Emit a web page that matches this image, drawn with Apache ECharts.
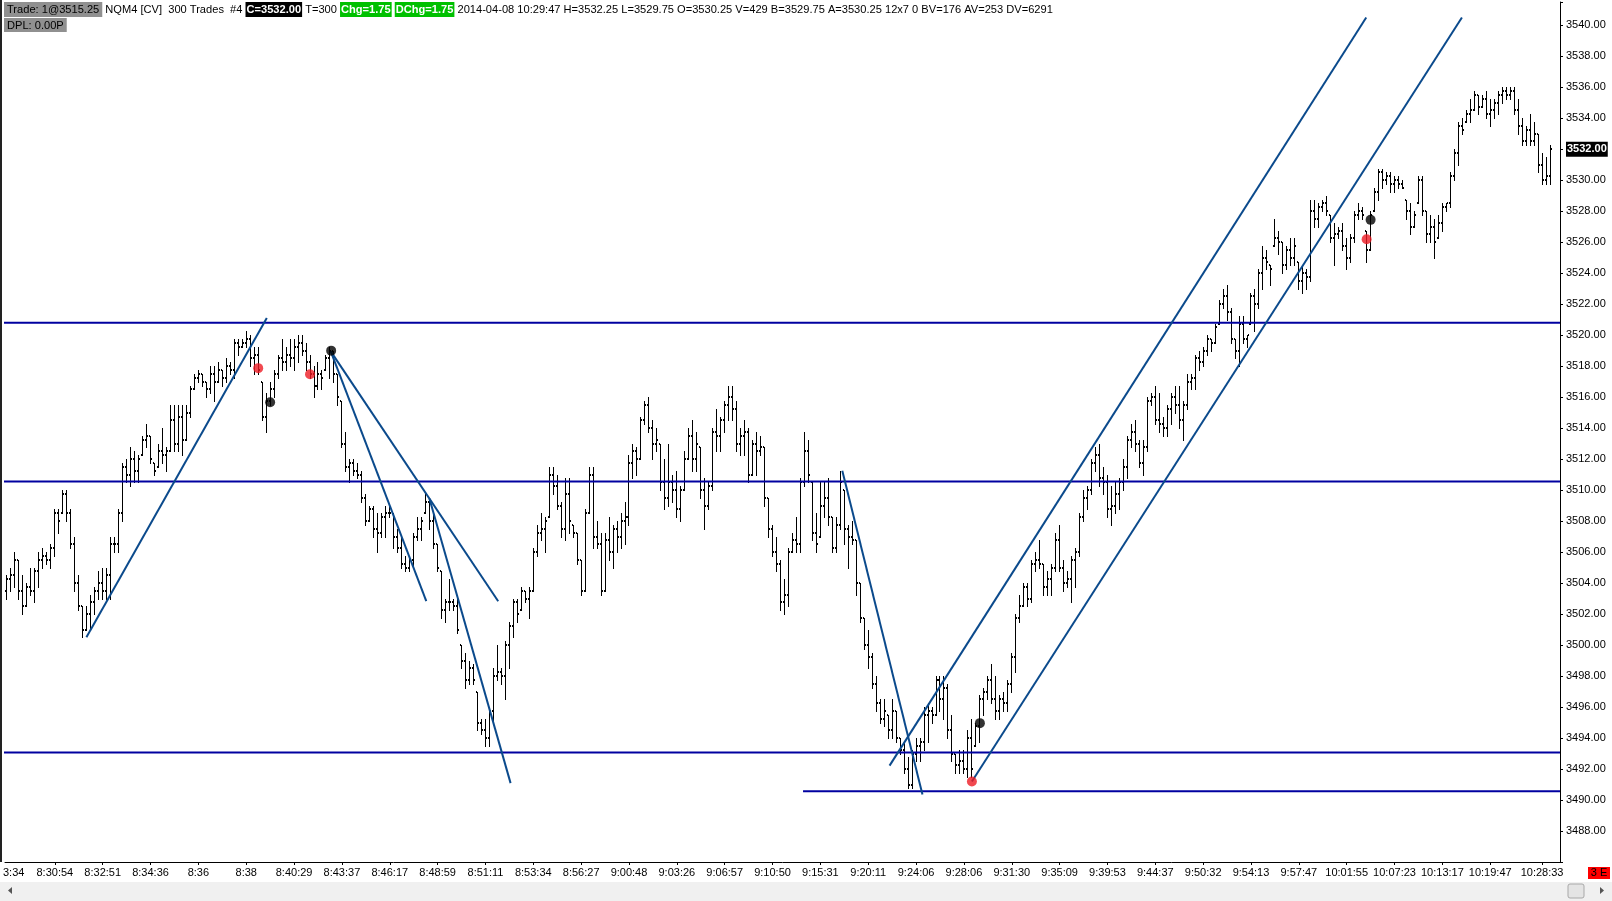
<!DOCTYPE html>
<html>
<head>
<meta charset="utf-8">
<script src="https://cdn.jsdelivr.net/npm/echarts@6/dist/echarts.min.js"></script>
<style>html,body{margin:0;padding:0;background:#fff;overflow:hidden}#chart{width:1612px;height:901px}</style>
</head>
<body>
<div id="chart"></div>
<script>
// ---- OHLC bars (300-trade bars, NQM4) ----
const opens = [
3503.5,3504.25,3504.5,3505.5,3503.5,3502.5,3503.75,3503.5,3504.75,3505.5,
3505.75,3505.5,3506.25,3508.5,3508.5,3509.75,3508.5,3506.5,3504.0,3502.5,
3501.0,3502.0,3502.75,3503.5,3504.0,3503.5,3504.5,3506.5,3506.5,3508.5,
3511.5,3511.0,3512.0,3511.25,3512.25,3513.25,3513.5,3511.75,3511.5,3512.5,
3512.25,3512.5,3514.5,3513.0,3514.75,3513.25,3515.0,3516.5,3517.25,3517.5,
3517.0,3516.5,3517.5,3517.0,3517.75,3517.25,3518.0,3517.75,3519.5,3519.25,
3519.5,3519.75,3518.5,3518.75,3517.0,3514.75,3515.75,3516.5,3517.5,3518.5,
3518.25,3518.75,3518.5,3519.25,3519.5,3519.0,3518.25,3517.5,3516.75,3517.5,
3517.75,3518.5,3519.0,3517.5,3515.75,3513.0,3511.5,3511.75,3511.25,3511.0,
3509.5,3508.0,3508.75,3507.5,3507.25,3508.25,3508.5,3508.5,3507.0,3506.25,
3505.25,3505.0,3505.5,3507.0,3507.5,3508.5,3509.25,3508.0,3506.5,3504.75,
3502.25,3502.75,3502.75,3502.5,3500.0,3499.0,3497.75,3498.5,3497.0,3495.0,
3494.5,3494.0,3495.75,3498.0,3498.25,3498.0,3500.0,3501.25,3502.75,3502.25,
3503.5,3503.0,3503.5,3506.0,3507.25,3507.5,3508.25,3511.0,3510.25,3509.0,
3507.5,3509.75,3507.75,3507.25,3505.5,3503.5,3508.5,3511.0,3507.0,3506.5,
3503.5,3506.75,3506.0,3507.5,3507.0,3508.0,3508.25,3511.75,3512.5,3512.0,
3514.5,3515.5,3514.0,3513.0,3513.0,3510.5,3509.5,3510.5,3510.0,3508.75,
3510.0,3512.0,3513.5,3512.0,3512.75,3510.0,3509.0,3510.25,3513.75,3513.5,
3514.5,3515.5,3516.0,3515.25,3513.0,3513.5,3513.75,3511.0,3513.0,3512.5,
3512.75,3509.5,3507.5,3506.0,3505.25,3502.75,3503.25,3506.0,3506.75,3506.5,
3510.5,3512.5,3510.5,3507.25,3507.0,3509.0,3509.5,3508.25,3506.25,3507.75,
3510.0,3507.5,3507.0,3506.75,3504.0,3501.75,3500.0,3499.25,3497.5,3496.25,
3495.25,3495.5,3494.5,3495.75,3494.0,3493.25,3492.0,3491.0,3493.0,3493.5,
3493.75,3495.5,3495.75,3495.5,3497.75,3496.5,3497.25,3494.5,3493.0,3492.25,
3492.5,3492.0,3494.0,3493.5,3494.75,3496.5,3497.0,3497.75,3496.5,3495.75,
3496.5,3496.25,3497.5,3499.25,3501.75,3502.5,3503.75,3503.0,3505.25,3505.5,
3505.25,3503.75,3504.25,3505.0,3506.75,3505.0,3504.0,3504.25,3505.5,3506.0,
3508.25,3509.5,3510.0,3511.75,3512.25,3510.75,3510.5,3508.75,3509.0,3509.75,
3510.5,3511.5,3513.25,3513.75,3513.0,3511.75,3512.75,3515.75,3516.0,3514.5,
3514.25,3514.0,3515.25,3516.0,3515.5,3514.5,3515.5,3517.0,3517.25,3518.5,
3518.25,3519.0,3519.75,3519.5,3520.75,3522.0,3522.5,3521.5,3519.75,3519.0,
3520.75,3519.75,3520.75,3522.5,3522.0,3524.0,3525.0,3524.5,3525.75,3526.25,
3526.0,3524.5,3525.5,3525.0,3524.75,3523.5,3524.0,3523.75,3528.0,3527.5,
3528.25,3528.5,3527.75,3526.25,3526.5,3526.75,3525.75,3525.0,3526.25,3527.75,
3528.0,3526.75,3525.5,3528.0,3529.25,3530.5,3530.0,3530.25,3529.75,3530.0,
3529.75,3528.75,3528.0,3527.0,3528.5,3530.0,3528.0,3526.5,3527.0,3526.25,
3527.25,3528.25,3528.5,3530.25,3531.75,3533.5,3533.75,3534.25,3534.5,3535.5,
3534.75,3535.25,3534.25,3534.5,3535.0,3535.5,3535.75,3535.5,3535.75,3534.5,
3533.5,3532.5,3533.25,3532.5,3533.0,3531.0,3530.0,3530.25
];
const highs = [
3504.5,3505.0,3506.0,3505.5,3504.5,3504.0,3505.0,3505.0,3506.0,3506.25,
3506.0,3506.5,3508.75,3508.75,3510.0,3510.0,3508.75,3507.0,3504.5,3502.5,
3502.5,3503.25,3503.75,3504.75,3505.0,3505.0,3507.0,3507.0,3508.75,3511.75,
3512.0,3512.75,3512.5,3512.25,3513.5,3514.25,3513.5,3511.75,3513.0,3514.0,
3512.75,3515.5,3515.5,3515.5,3515.5,3515.5,3516.75,3517.5,3517.75,3517.5,
3517.0,3518.0,3518.0,3518.25,3517.75,3518.5,3518.25,3519.75,3519.75,3519.75,
3520.25,3520.0,3519.25,3519.25,3517.0,3516.25,3517.0,3517.75,3518.75,3519.75,
3519.25,3519.75,3519.75,3520.0,3520.0,3519.5,3518.75,3518.0,3518.25,3517.75,
3518.75,3519.25,3519.0,3517.5,3515.75,3513.75,3512.0,3512.0,3511.75,3511.25,
3509.75,3509.0,3509.0,3508.5,3508.5,3509.0,3509.0,3508.5,3507.5,3507.0,
3505.75,3505.75,3507.25,3508.25,3508.25,3509.75,3509.5,3508.5,3506.5,3504.75,
3503.0,3504.25,3503.0,3503.25,3500.0,3499.5,3499.0,3498.75,3497.0,3495.25,
3495.25,3496.0,3498.5,3500.0,3498.5,3500.25,3501.5,3503.0,3503.0,3503.75,
3503.5,3503.75,3506.25,3507.75,3508.5,3508.25,3511.5,3511.5,3511.0,3509.25,
3510.75,3510.75,3507.75,3507.25,3505.5,3508.75,3511.5,3511.5,3508.0,3507.25,
3507.25,3508.25,3507.75,3508.0,3508.5,3509.25,3512.25,3513.0,3512.75,3514.75,
3515.75,3516.0,3514.5,3514.0,3513.0,3512.0,3513.0,3511.0,3511.25,3510.25,
3512.5,3514.0,3514.5,3513.75,3512.75,3510.75,3510.5,3514.0,3515.25,3514.75,
3515.75,3516.75,3516.75,3515.75,3514.0,3514.5,3514.0,3513.25,3513.75,3513.5,
3512.75,3509.5,3507.75,3507.0,3505.5,3504.25,3506.25,3507.25,3508.25,3510.75,
3513.75,3513.25,3510.5,3508.5,3510.5,3510.5,3510.75,3508.25,3508.25,3511.25,
3510.0,3507.75,3508.0,3506.75,3504.0,3501.75,3501.0,3499.5,3498.0,3496.5,
3496.5,3495.5,3496.5,3495.75,3494.0,3493.75,3492.75,3493.25,3494.0,3494.0,
3496.0,3496.25,3496.0,3498.0,3498.0,3498.0,3497.5,3495.5,3493.0,3493.25,
3493.25,3494.5,3495.25,3495.0,3496.75,3497.25,3498.0,3498.75,3498.0,3496.75,
3497.0,3497.75,3499.5,3502.0,3503.25,3504.0,3504.0,3505.5,3506.0,3506.75,
3505.25,3504.75,3505.25,3507.25,3507.75,3505.5,3504.75,3505.75,3506.25,3508.5,
3510.0,3510.25,3512.0,3512.75,3513.0,3511.5,3511.0,3510.25,3510.5,3510.75,
3512.0,3513.5,3514.25,3514.5,3513.25,3513.25,3516.0,3516.25,3516.75,3516.25,
3514.75,3515.5,3516.25,3516.75,3516.75,3515.75,3517.5,3517.5,3518.75,3519.0,
3519.25,3520.0,3519.75,3520.75,3522.25,3523.0,3523.25,3521.75,3519.75,3521.25,
3521.25,3520.0,3522.75,3523.0,3524.25,3525.75,3525.5,3524.5,3527.5,3526.75,
3526.0,3525.75,3526.25,3526.25,3524.75,3524.5,3524.25,3528.75,3528.75,3528.5,
3528.75,3529.0,3527.75,3527.25,3527.0,3527.25,3526.25,3526.5,3528.0,3528.5,
3528.25,3526.75,3528.0,3529.5,3530.75,3530.75,3530.5,3530.5,3530.25,3530.25,
3530.0,3528.75,3528.5,3528.0,3530.25,3530.25,3528.0,3527.75,3527.5,3527.75,
3528.5,3528.5,3530.5,3532.0,3533.75,3534.0,3534.5,3535.25,3535.75,3535.5,
3535.5,3535.75,3535.25,3535.25,3535.75,3536.0,3536.0,3536.0,3536.0,3535.25,
3534.0,3533.5,3534.25,3533.75,3533.0,3531.75,3531.5,3532.25
];
const lows = [
3503.0,3503.5,3503.75,3503.0,3502.0,3502.5,3503.25,3502.75,3503.75,3505.0,
3505.25,3505.0,3505.75,3507.25,3508.5,3508.0,3506.25,3503.5,3502.25,3500.5,
3501.0,3501.0,3502.0,3503.0,3503.0,3503.0,3503.0,3506.0,3506.0,3508.0,
3510.5,3510.25,3510.5,3510.5,3512.25,3512.75,3511.75,3511.0,3511.5,3511.75,
3511.25,3512.5,3512.5,3512.5,3512.25,3513.25,3514.75,3516.5,3517.0,3516.75,
3516.0,3516.25,3515.75,3517.0,3516.75,3517.0,3517.5,3517.25,3518.75,3519.25,
3519.25,3518.0,3517.5,3517.5,3514.5,3513.75,3515.5,3516.0,3517.25,3517.75,
3517.75,3518.0,3517.75,3518.25,3518.75,3517.75,3517.25,3516.0,3516.5,3516.5,
3517.75,3517.25,3517.0,3515.5,3512.75,3511.25,3510.5,3511.0,3510.75,3509.25,
3507.75,3508.0,3507.0,3506.0,3507.0,3507.0,3508.25,3506.25,3506.0,3505.0,
3504.75,3504.75,3505.0,3506.75,3506.75,3508.5,3507.5,3506.25,3504.75,3501.75,
3501.5,3502.25,3502.25,3500.75,3498.5,3497.25,3497.5,3497.5,3494.5,3494.25,
3493.5,3493.5,3495.0,3497.75,3497.5,3496.5,3498.5,3500.5,3501.5,3502.25,
3502.75,3501.75,3503.5,3505.75,3506.75,3506.0,3508.25,3509.75,3508.75,3507.0,
3506.75,3507.25,3507.0,3505.25,3503.25,3503.5,3508.5,3506.25,3506.25,3503.25,
3503.5,3505.5,3505.0,3506.0,3506.25,3506.5,3507.75,3510.75,3511.0,3512.0,
3514.25,3513.75,3512.0,3512.5,3510.0,3508.75,3509.0,3509.25,3508.25,3508.0,
3510.0,3512.0,3511.25,3511.25,3509.5,3507.5,3508.75,3510.0,3512.5,3512.5,
3513.75,3514.5,3514.5,3512.5,3512.25,3512.25,3510.5,3511.0,3511.0,3512.25,
3509.0,3507.0,3505.75,3504.75,3502.25,3502.0,3502.5,3506.0,3506.0,3506.0,
3510.25,3510.5,3506.75,3506.0,3507.0,3508.25,3507.75,3506.0,3506.0,3507.5,
3506.5,3505.0,3506.5,3503.25,3501.5,3499.75,3498.5,3497.25,3495.75,3495.0,
3494.75,3494.0,3494.0,3493.75,3493.0,3491.75,3490.75,3490.75,3492.5,3492.5,
3493.25,3493.75,3495.0,3495.5,3495.75,3495.25,3494.0,3492.5,3491.75,3491.75,
3491.75,3491.5,3491.5,3493.5,3493.75,3495.5,3496.5,3496.25,3495.25,3495.25,
3495.75,3495.75,3497.0,3498.25,3501.5,3502.5,3502.5,3502.75,3504.75,3505.0,
3503.25,3503.25,3503.25,3504.75,3504.75,3503.5,3503.75,3502.75,3503.75,3505.75,
3508.0,3508.75,3509.75,3511.25,3510.25,3509.75,3508.25,3507.75,3508.5,3508.75,
3510.0,3510.75,3512.75,3512.5,3511.5,3511.0,3512.5,3515.5,3514.25,3513.75,
3513.5,3513.5,3514.25,3515.0,3514.0,3513.25,3515.25,3516.5,3516.5,3517.75,
3518.0,3518.75,3519.0,3519.5,3520.75,3521.75,3521.0,3519.5,3518.5,3518.0,
3519.5,3519.25,3520.75,3520.25,3521.75,3523.0,3524.25,3523.25,3525.75,3525.25,
3524.0,3524.25,3524.5,3524.5,3523.0,3522.75,3523.0,3523.5,3527.0,3527.0,
3528.0,3527.75,3526.0,3524.5,3526.25,3525.5,3524.25,3524.75,3526.0,3527.5,
3527.5,3524.75,3525.5,3528.0,3528.75,3529.5,3529.75,3529.25,3529.25,3529.5,
3529.5,3527.5,3526.5,3527.0,3528.5,3527.75,3526.0,3526.0,3525.0,3526.25,
3526.75,3528.0,3528.25,3530.0,3531.0,3533.0,3533.75,3533.75,3534.5,3534.25,
3534.75,3534.0,3533.5,3534.0,3534.25,3535.0,3535.25,3535.25,3534.25,3533.0,
3532.25,3532.25,3532.25,3532.25,3530.5,3529.75,3529.75,3529.75
];
const closes = [
3504.25,3504.5,3505.5,3503.5,3502.5,3503.75,3503.5,3504.75,3505.5,3505.75,
3505.5,3506.25,3508.5,3508.0,3509.75,3508.5,3506.5,3504.0,3502.5,3501.0,
3502.0,3502.75,3503.5,3504.0,3503.5,3504.5,3506.5,3506.5,3508.5,3511.5,
3511.0,3512.0,3511.25,3512.0,3513.25,3513.5,3512.0,3511.25,3512.5,3512.25,
3512.5,3514.5,3513.0,3514.75,3513.25,3515.0,3516.5,3517.25,3517.5,3517.0,
3516.5,3517.5,3517.0,3517.75,3517.25,3518.0,3517.75,3519.5,3519.25,3519.5,
3519.75,3518.5,3518.75,3517.75,3514.75,3515.75,3516.5,3517.5,3518.5,3518.25,
3518.75,3518.5,3519.25,3519.5,3519.0,3518.25,3517.5,3516.75,3517.5,3517.25,
3518.5,3519.0,3517.5,3516.0,3513.0,3511.5,3511.75,3511.25,3511.0,3509.5,
3508.0,3508.75,3507.5,3507.25,3508.25,3508.5,3508.5,3507.0,3506.25,3505.25,
3505.0,3505.5,3507.0,3507.5,3508.0,3509.25,3508.0,3506.5,3505.0,3502.25,
3502.75,3502.75,3502.5,3501.0,3499.0,3497.75,3498.5,3497.75,3495.0,3494.5,
3494.0,3495.75,3498.0,3498.25,3498.0,3500.0,3501.25,3502.75,3502.0,3503.5,
3503.0,3503.5,3506.0,3507.25,3507.5,3508.0,3511.0,3510.25,3509.0,3507.5,
3509.75,3508.0,3507.25,3505.5,3503.5,3508.5,3511.0,3507.0,3506.5,3503.5,
3506.75,3506.0,3507.5,3507.0,3508.0,3508.25,3511.75,3512.5,3512.0,3514.5,
3515.5,3514.0,3513.0,3513.25,3510.5,3509.5,3510.5,3510.0,3508.75,3510.0,
3512.0,3513.5,3512.0,3513.0,3510.0,3509.0,3510.25,3513.75,3513.5,3514.5,
3515.5,3516.0,3515.25,3513.0,3513.5,3513.75,3511.0,3513.0,3512.5,3512.75,
3509.5,3507.5,3506.0,3505.25,3502.75,3503.25,3506.0,3506.75,3506.5,3510.5,
3512.5,3511.0,3507.25,3506.5,3509.0,3509.5,3508.25,3506.25,3507.75,3510.5,
3507.5,3507.0,3506.75,3504.0,3501.75,3500.0,3499.25,3497.5,3496.25,3495.25,
3495.75,3494.5,3495.75,3494.0,3493.25,3492.0,3491.0,3493.0,3493.5,3493.75,
3495.5,3495.75,3495.5,3497.75,3496.5,3497.25,3494.5,3493.0,3492.25,3492.5,
3492.0,3494.0,3492.0,3494.75,3496.5,3497.0,3497.75,3496.5,3495.75,3496.5,
3496.25,3497.5,3499.25,3501.75,3502.5,3503.75,3503.0,3505.25,3505.5,3505.25,
3503.75,3504.25,3505.0,3506.75,3505.0,3504.0,3504.25,3505.5,3506.0,3508.25,
3509.5,3510.0,3511.75,3512.25,3510.75,3510.5,3508.75,3509.0,3509.75,3510.5,
3511.5,3513.25,3513.75,3513.0,3511.75,3512.75,3515.75,3516.0,3514.5,3514.25,
3514.0,3515.25,3516.0,3515.5,3514.5,3515.5,3517.0,3517.25,3518.5,3518.25,
3519.0,3519.75,3519.5,3520.5,3522.0,3522.5,3521.5,3519.75,3519.0,3520.75,
3519.75,3520.0,3522.5,3522.0,3524.0,3525.0,3524.75,3524.25,3526.25,3526.0,
3524.5,3525.5,3525.0,3525.75,3523.5,3524.0,3523.75,3528.0,3527.5,3528.25,
3528.5,3528.0,3526.25,3526.5,3526.75,3525.75,3525.0,3526.25,3527.75,3528.0,
3527.75,3525.5,3527.75,3529.25,3530.5,3530.0,3530.25,3529.75,3530.0,3529.75,
3529.5,3528.0,3527.0,3527.75,3530.0,3528.0,3526.5,3527.0,3526.0,3527.25,
3528.25,3528.5,3530.25,3531.75,3533.5,3533.25,3534.25,3534.5,3535.5,3534.75,
3535.25,3534.25,3534.5,3535.0,3535.5,3535.75,3535.5,3535.75,3534.5,3533.5,
3532.5,3533.25,3532.5,3533.0,3531.0,3530.0,3530.25,3532.0
];

// ---- time axis labels (bar index -> label) ----
const tickIndex  = [0,12,24,36,48,60,72,84,96,108,120,132,144,156,168,180,192,204,216,228,240,252,264,276,288,300,312,324,336,348,360,372,385];
const tickLabels = ["3:34","8:30:54","8:32:51","8:34:36","8:36","8:38","8:40:29","8:43:37","8:46:17","8:48:59","8:51:11","8:53:34","8:56:27","9:00:48","9:03:26","9:06:57","9:10:50","9:15:31","9:20:11","9:24:06","9:28:06","9:31:30","9:35:09","9:39:53","9:44:37","9:50:32","9:54:13","9:57:47","10:01:55","10:07:23","10:13:17","10:19:47","10:28:33"];

// ---- drawn horizontal levels ----
const levelPrices = [3520.8, 3510.55, 3493.07, 3490.56];
const levelFrom   = [-1.25, -1.25, -1.25, 199.65];
const levelTo     = [389.5, 389.5, 389.5, 389.5];

// ---- drawn trend lines: [bar1, price1, bar2, price2] ----
const trendLines = [
  [19.92, 3500.5, 65.16, 3521.11],
  [81.2, 3518.95, 105.16, 3502.83],
  [81.2, 3518.95, 123.2, 3502.83],
  [105.94, 3509.46, 126.3, 3491.09],
  [209.5, 3511.25, 229.6, 3490.36],
  [221.35, 3492.22, 340.9, 3540.5],
  [242.0, 3491.2, 364.9, 3540.5]
];

// ---- signal dots ----
const redDots   = [[63, 3517.87], [76, 3517.48], [242, 3491.2], [341, 3526.19]];
const blackDots = [[66, 3515.67], [81.3, 3519.0], [244, 3494.96], [342, 3527.44]];

const padBars = 2;
const FONT = 'Liberation Sans';

const nBars = opens.length;
const categories = [];
for (let k = 0; k < nBars + padBars; k++) categories.push(String(k));
const labelMap = {};
tickIndex.forEach((t, k) => { labelMap[t] = tickLabels[k]; });
const showTick = (i) => i > 0 && labelMap[i] !== undefined;

const ohlcData = opens.map((o, i) => [i, o, highs[i], lows[i], closes[i]]);
const last = nBars - 1;

function renderOHLC(params, api) {
  const i = api.value(0);
  const top = api.coord([i, api.value(2)]);
  const bot = api.coord([i, api.value(3)]);
  const yo = api.coord([i, api.value(1)])[1];
  const yc = api.coord([i, api.value(4)])[1];
  const x = Math.floor(top[0]);
  const y1 = Math.round(top[1]), y2 = Math.round(bot[1]);
  return {
    type: 'group',
    children: [
      { type: 'rect', shape: { x: x, y: y1, width: 1, height: Math.max(1, y2 - y1 + 1) }, style: { fill: '#000' } },
      { type: 'rect', shape: { x: x - 1, y: Math.round(yo) - 1, width: 1, height: 2 }, style: { fill: '#000' } },
      { type: 'rect', shape: { x: x + 1, y: Math.round(yc) - 1, width: 1, height: 2 }, style: { fill: '#000' } }
    ]
  };
}

const series = [];
series.push({
  type: 'custom',
  name: 'NQM4',
  xAxisIndex: 0,
  yAxisIndex: 0,
  renderItem: renderOHLC,
  encode: { x: 0, y: [2, 3] },
  data: ohlcData,
  z: 2
});
levelPrices.forEach((p, k) => {
  series.push({
    type: 'line', xAxisIndex: 1, yAxisIndex: 0, clip: false, silent: true,
    symbol: 'none', z: 3,
    lineStyle: { color: '#0000a0', width: 2 },
    data: [[levelFrom[k], p], [levelTo[k], p]]
  });
});
trendLines.forEach((t) => {
  series.push({
    type: 'line', xAxisIndex: 1, yAxisIndex: 0, clip: false, silent: true,
    symbol: 'none', z: 3,
    lineStyle: { color: '#0b4a8c', width: 2 },
    data: [[t[0], t[1]], [t[2], t[3]]]
  });
});
series.push({
  type: 'scatter', xAxisIndex: 1, yAxisIndex: 0, symbolSize: 10, z: 5, silent: true,
  itemStyle: { color: '#ee1c24' }, data: redDots
});
series.push({
  type: 'scatter', xAxisIndex: 1, yAxisIndex: 0, symbolSize: 10, z: 5, silent: true,
  itemStyle: { color: '#000' }, data: blackDots
});

const lastO = opens[last].toFixed(2), lastH = highs[last].toFixed(2), lastL = lows[last].toFixed(2), lastC = closes[last].toFixed(2);
const headerText =
  '{g|Trade: 1@3515.25} NQM4 [CV]  300 Trades  #4 {b|C=' + lastC + '} T=300 {gr|Chg=1.75} {gr|DChg=1.75} 2014-04-08 10:29:47 H=' + lastH +
  ' L=' + lastL + ' O=' + lastO + ' V=429 B=3529.75 A=3530.25 12x7 0 BV=176 AV=253 DV=6291';

const chart = echarts.init(document.getElementById('chart'), null, { renderer: 'canvas' });
chart.setOption({
  animation: false,
  backgroundColor: '#fff',
  textStyle: { fontFamily: FONT },
  grid: { left: 5, right: 52, top: 2, bottom: 39, containLabel: false },
  xAxis: [
    {
      type: 'category', data: categories, boundaryGap: true,
      axisLine: { show: true, onZero: false, lineStyle: { color: '#000', width: 1 } },
      axisTick: { show: true, alignWithLabel: true, length: 3, interval: (i) => showTick(i), lineStyle: { color: '#000' } },
      axisLabel: {
        show: true, interval: (i) => showTick(i), formatter: (v, i) => (i > 0 && labelMap[i]) ? labelMap[i] : '',
        color: '#000', fontSize: 11, fontFamily: FONT, margin: 5
      },
      splitLine: { show: false }
    },
    {
      type: 'value', min: -0.5, max: nBars + padBars - 0.5, show: false,
      axisLine: { show: false, onZero: false }, axisTick: { show: false }, axisLabel: { show: false }, splitLine: { show: false }
    }
  ],
  yAxis: {
    type: 'value', position: 'right', min: 3486, max: 3541.5, interval: 2,
    axisLine: { show: true, onZero: false, lineStyle: { color: '#000', width: 1 } },
    axisTick: { show: true, length: 3, lineStyle: { color: '#000' } },
    axisLabel: {
      color: '#000', fontSize: 11, fontFamily: FONT, margin: 6,
      formatter: (v) => (v < 3487 || v > 3540.5) ? '' : v.toFixed(2)
    },
    splitLine: { show: false }
  },
  series: series
});

// price marker on the right axis, placed through the y scale
const yLast = chart.convertToPixel({ yAxisIndex: 0 }, closes[last]);

chart.setOption({
  graphic: [
    { type: 'rect', shape: { x: 0, y: 0, width: 2, height: 862 }, style: { fill: '#222' }, z: 10 },
    {
      type: 'text', x: 4, y: 2, z: 10,
      style: {
        text: headerText, font: '11.1px ' + FONT, fill: '#000', verticalAlign: 'top',
        rich: {
          g: { backgroundColor: '#909090', fill: '#000', padding: [2, 3, 2, 3], fontSize: 11.1, fontFamily: FONT },
          b: { backgroundColor: '#000', fill: '#fff', padding: [2, 1, 2, 1], fontSize: 11.1, fontFamily: FONT, fontWeight: 'bold' },
          gr: { backgroundColor: '#00c000', fill: '#fff', padding: [2, 1, 2, 1], fontSize: 11.1, fontFamily: FONT, fontWeight: 'bold' }
        }
      }
    },
    {
      type: 'text', x: 4, y: 18, z: 10,
      style: {
        text: '{g|DPL: 0.00P}', font: '11.1px ' + FONT, verticalAlign: 'top',
        rich: { g: { backgroundColor: '#909090', fill: '#000', padding: [2, 3, 1, 3], fontSize: 11.1, fontFamily: FONT } }
      }
    },
    {
      type: 'text', x: 3, y: 873, z: 10,
      style: { text: tickLabels[0], font: '11px ' + FONT, fill: '#000', verticalAlign: 'middle', align: 'left' }
    },
    {
      type: 'text', x: 1566, y: yLast, z: 12,
      style: {
        text: lastC, font: 'bold 11px ' + FONT, fill: '#fff', backgroundColor: '#000',
        padding: [2, 1, 2, 1], verticalAlign: 'middle', align: 'left'
      }
    },
    { type: 'rect', shape: { x: 0, y: 882, width: 1612, height: 19 }, style: { fill: '#f0f0f0' }, z: 9 },
    { type: 'polygon', shape: { points: [[12, 887], [12, 894], [8, 890.5]] }, style: { fill: '#555' }, z: 10 },
    { type: 'polygon', shape: { points: [[1600, 887], [1600, 894], [1604, 890.5]] }, style: { fill: '#555' }, z: 10 },
    { type: 'rect', shape: { x: 1568, y: 884, width: 16, height: 14, r: 2 }, style: { fill: '#e4e4e4', stroke: '#a8a8a8', lineWidth: 1 }, z: 10 },
    { type: 'rect', shape: { x: 1588, y: 867, width: 22, height: 12 }, style: { fill: '#ff0000' }, z: 10 },
    {
      type: 'text', x: 1599, y: 873, z: 11,
      style: { text: '3 E', font: '11px ' + FONT, fill: '#000', align: 'center', verticalAlign: 'middle' }
    }
  ]
});
</script>
</body>
</html>
